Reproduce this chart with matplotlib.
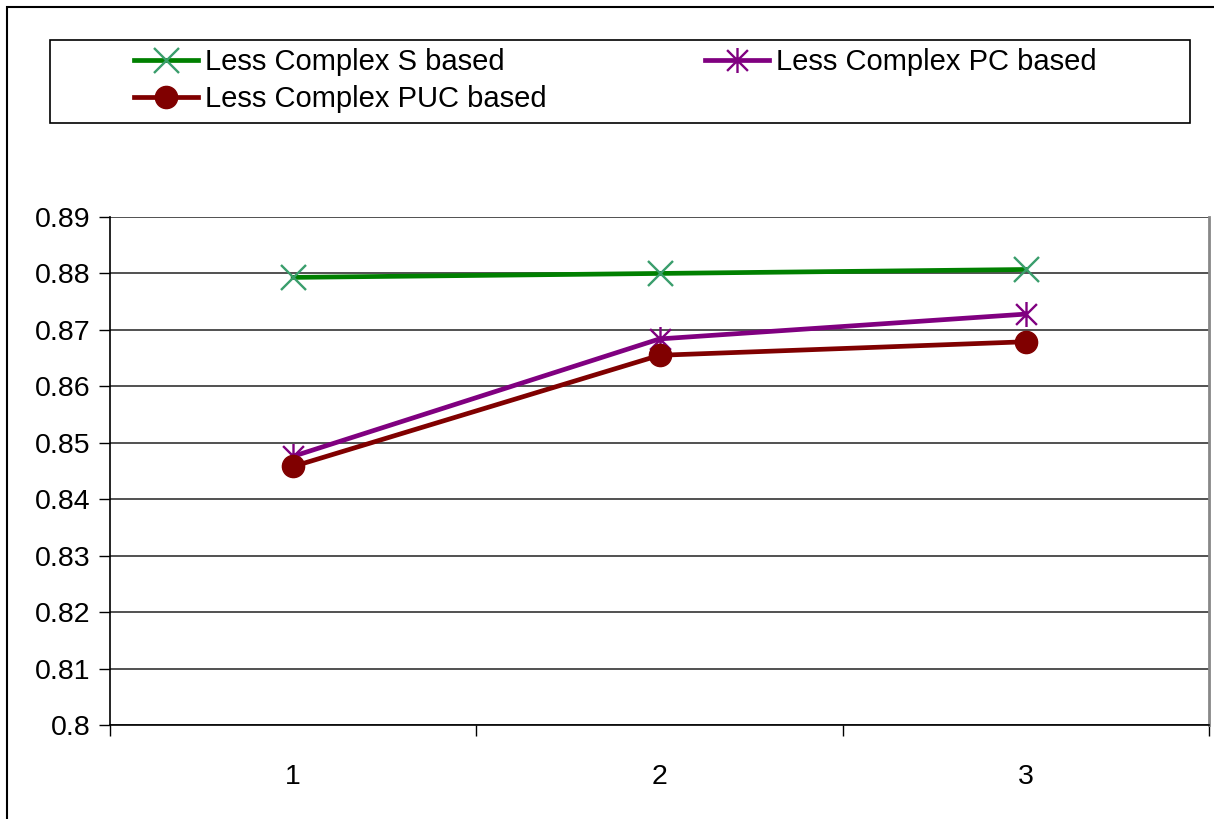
import matplotlib
matplotlib.use("Agg")
import matplotlib.pyplot as plt
from matplotlib.patches import Rectangle
from matplotlib.path import Path
import numpy as np

plt.rcParams['font.family'] = ['Liberation Sans', 'DejaVu Sans']

categories = ['1', '2', '3']
s_based = [0.8793, 0.8800, 0.8807]
pc_based = [0.8476, 0.8684, 0.8728]
puc_based = [0.8458, 0.8655, 0.8679]
y_ticks = [0.8, 0.81, 0.82, 0.83, 0.84, 0.85, 0.86, 0.87, 0.88, 0.89]
y_labels = ['0.8', '0.81', '0.82', '0.83', '0.84', '0.85', '0.86', '0.87', '0.88', '0.89']

# gwiazdka jak w Excelu: X + pionowa kreska
star_path = Path(
    [(-1, -1), (1, 1), (-1, 1), (1, -1), (0, -1.2), (0, 1.2)],
    [Path.MOVETO, Path.LINETO, Path.MOVETO, Path.LINETO, Path.MOVETO, Path.LINETO])

fig = plt.figure(figsize=(12.14, 8.19), dpi=100)
W, H = 1214, 819
ax = fig.add_axes([110 / W, 1 - 725 / H, (1209 - 110) / W, (725 - 217) / H])

x = np.arange(1, len(categories) + 1)
l1, = ax.plot(x, s_based, color='#008000', linewidth=3.4, marker='x', markersize=18,
              markeredgecolor='#3a9e6c', markeredgewidth=1.7, label='Less Complex S based')
l2, = ax.plot(x, pc_based, color='#800080', linewidth=3.4, marker=star_path, markersize=18,
              markeredgecolor='#800080', markerfacecolor='none', markeredgewidth=1.7,
              label='Less Complex PC based')
l3, = ax.plot(x, puc_based, color='#800000', linewidth=3.4, marker='o', markersize=16,
              markeredgecolor='#800000', markerfacecolor='#800000', label='Less Complex PUC based')

ax.set_xlim(0.5, len(categories) + 0.5)
ax.set_ylim(0.8, 0.89)
ax.set_yticks(y_ticks)
ax.set_yticklabels(y_labels, fontsize=20.5)
ax.set_xticks(x)
ax.set_xticklabels(categories, fontsize=20.5)
ax.set_xticks(np.arange(0.5, len(categories) + 1, 1), minor=True)
ax.tick_params(axis='x', which='major', length=0, pad=28)
ax.tick_params(axis='x', which='minor', length=8, width=1, direction='out')
ax.tick_params(axis='y', length=8, width=1, direction='out', pad=6)
ax.grid(True, axis='y', color='#222222', linewidth=1.1)
ax.set_axisbelow(True)
for side in ['top', 'right']:
    ax.spines[side].set_visible(False)
ax.spines['left'].set_linewidth(1.2)
ax.spines['bottom'].set_linewidth(1.2)
ax.axvline(len(categories) + 0.5, color='#888888', linewidth=2, clip_on=False)

# ramka legendy i obramowanie całego wykresu
fig.patches.append(Rectangle((50 / W, 1 - 123 / H), 1140 / W, 83 / H, transform=fig.transFigure,
                             facecolor='white', edgecolor='black', linewidth=1.2))
fig.patches.append(Rectangle((7 / W, -0.05), 1.1, 1.05 - 7 / H, transform=fig.transFigure,
                             facecolor='none', edgecolor='black', linewidth=1.5, clip_on=False))

leg = fig.legend(handles=[l1, l3, l2], ncol=2, loc='upper left',
                 bbox_to_anchor=(134 / W, 1 - 48 / H), frameon=False, fontsize=21,
                 handlelength=2.2, handletextpad=0.25, labelspacing=0.3,
                 columnspacing=5.4, borderpad=0, borderaxespad=0)

fig.savefig('out.png', dpi=100)
